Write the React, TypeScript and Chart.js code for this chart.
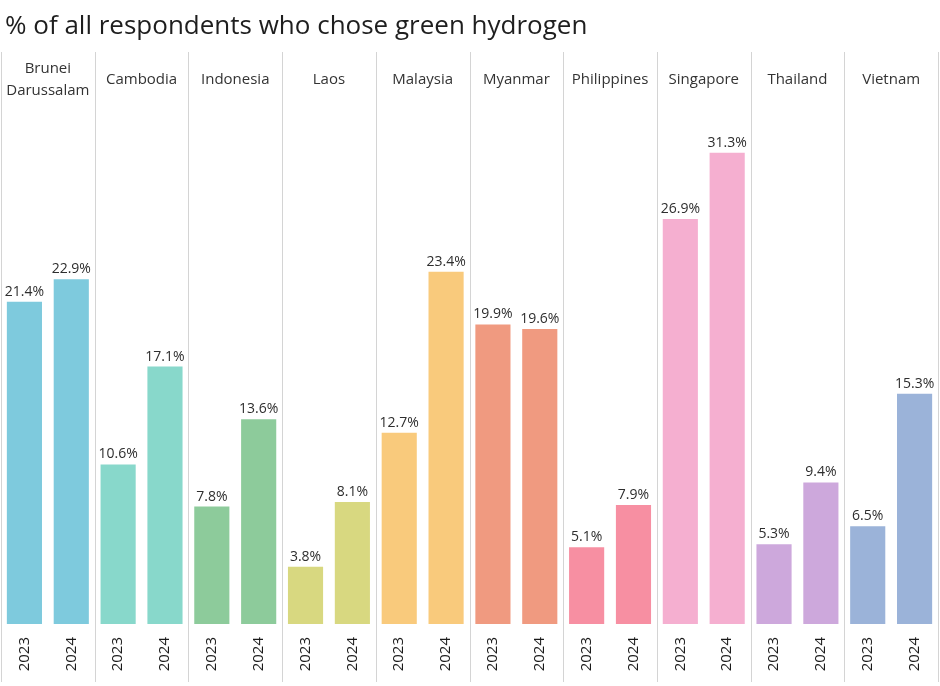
import React, { useEffect, useRef } from "react";
import Chart from "chart.js/auto";

const countries = [
  ["Brunei", "Darussalam"],
  ["Cambodia"],
  ["Indonesia"],
  ["Laos"],
  ["Malaysia"],
  ["Myanmar"],
  ["Philippines"],
  ["Singapore"],
  ["Thailand"],
  ["Vietnam"],
];
const years = ["2023", "2024"];
const values2023 = [21.4, 10.6, 7.8, 3.8, 12.7, 19.9, 5.1, 26.9, 5.3, 6.5];
const values2024 = [22.9, 17.1, 13.6, 8.1, 23.4, 19.6, 7.9, 31.3, 9.4, 15.3];
const colors = [
  "#7ecadd",
  "#88d8cb",
  "#8dcb9b",
  "#d8d880",
  "#f9ca7c",
  "#f09a80",
  "#f78fa2",
  "#f5afd0",
  "#cda8dc",
  "#9bb3d9",
];
const titleText = "% of all respondents who chose green hydrogen";

const FONT = "'Open Sans', 'Noto Sans', sans-serif";

const App: React.FC = () => {
  const chartRef = useRef<HTMLCanvasElement>(null);
  const chartInstance = useRef<Chart>();

  useEffect(() => {
    document.body.style.margin = "0";
    if (chartRef && chartRef.current) {
      const ctx = chartRef.current.getContext("2d");
      if (ctx) {
        if (chartInstance.current) {
          chartInstance.current.destroy();
        }
        const labels: string[] = [];
        const values: number[] = [];
        const barColors: string[] = [];
        countries.forEach((_, i) => {
          labels.push(years[0], years[1]);
          values.push(values2023[i], values2024[i]);
          barColors.push(colors[i], colors[i]);
        });

        const panelPlugin = {
          id: "panels",
          beforeDatasetsDraw(chart: any) {
            const c = chart.ctx;
            const x = chart.scales.x;
            const n = countries.length;
            const step = (x.right - x.left) / n;
            c.save();
            // title
            c.fillStyle = "#1e1e1e";
            c.font = `26px ${FONT}`;
            c.textAlign = "left";
            c.textBaseline = "alphabetic";
            c.fillText(titleText, 5, 34);
            // panel separators
            c.strokeStyle = "#d4d4d4";
            c.lineWidth = 1;
            for (let i = 0; i <= n; i++) {
              const px = Math.round(x.left + i * step) + 0.5;
              c.beginPath();
              c.moveTo(px, chart.chartArea.top);
              c.lineTo(px, chart.height - 4);
              c.stroke();
            }
            // country names
            c.fillStyle = "#333333";
            c.font = `15px ${FONT}`;
            c.textAlign = "center";
            c.textBaseline = "middle";
            countries.forEach((name, i) => {
              const cx = x.left + (i + 0.5) * step;
              const lh = 22;
              const y0 = 80 - ((name.length - 1) * lh) / 2;
              name.forEach((line, j) => c.fillText(line, cx, y0 + j * lh));
            });
            c.restore();
          },
          afterDatasetsDraw(chart: any) {
            const c = chart.ctx;
            const meta = chart.getDatasetMeta(0);
            c.save();
            c.fillStyle = "#2e2e2e";
            c.font = `14px ${FONT}`;
            c.textAlign = "center";
            c.textBaseline = "bottom";
            meta.data.forEach((bar: any, i: number) => {
              c.fillText(values[i].toFixed(1) + "%", bar.x, bar.y - 3);
            });
            c.restore();
          },
        };

        chartInstance.current = new Chart(ctx, {
          type: "bar",
          data: {
            labels: labels,
            datasets: [
              {
                label: "% chose green hydrogen",
                data: values,
                backgroundColor: barColors,
                borderWidth: 0,
                barPercentage: 0.75,
                categoryPercentage: 1,
              },
            ],
          },
          options: {
            animation: false,
            responsive: false,
            layout: { padding: { top: 52, left: 1, right: 2 } },
            plugins: {
              legend: { display: false },
              tooltip: { enabled: false },
              title: { display: false },
            },
            scales: {
              x: {
                grid: { display: false },
                border: { display: false },
                ticks: {
                  color: "#1a1a1a",
                  font: { family: FONT, size: 15 },
                  minRotation: 90,
                  maxRotation: 90,
                  padding: 5,
                },
                afterFit: (scale: any) => {
                  scale.height = 62;
                },
              },
              y: {
                display: false,
                min: 0,
                max: 38,
              },
            },
          },
          plugins: [panelPlugin],
        });
      }
    }

    return () => {
      if (chartInstance.current) {
        chartInstance.current.destroy();
      }
    };
  }, []);

  return (
    <div style={{ width: "940px", height: "686px" }}>
      <canvas ref={chartRef} width={940} height={686} style={{ width: "940px", height: "686px" }} />
    </div>
  );
};

export default App;
